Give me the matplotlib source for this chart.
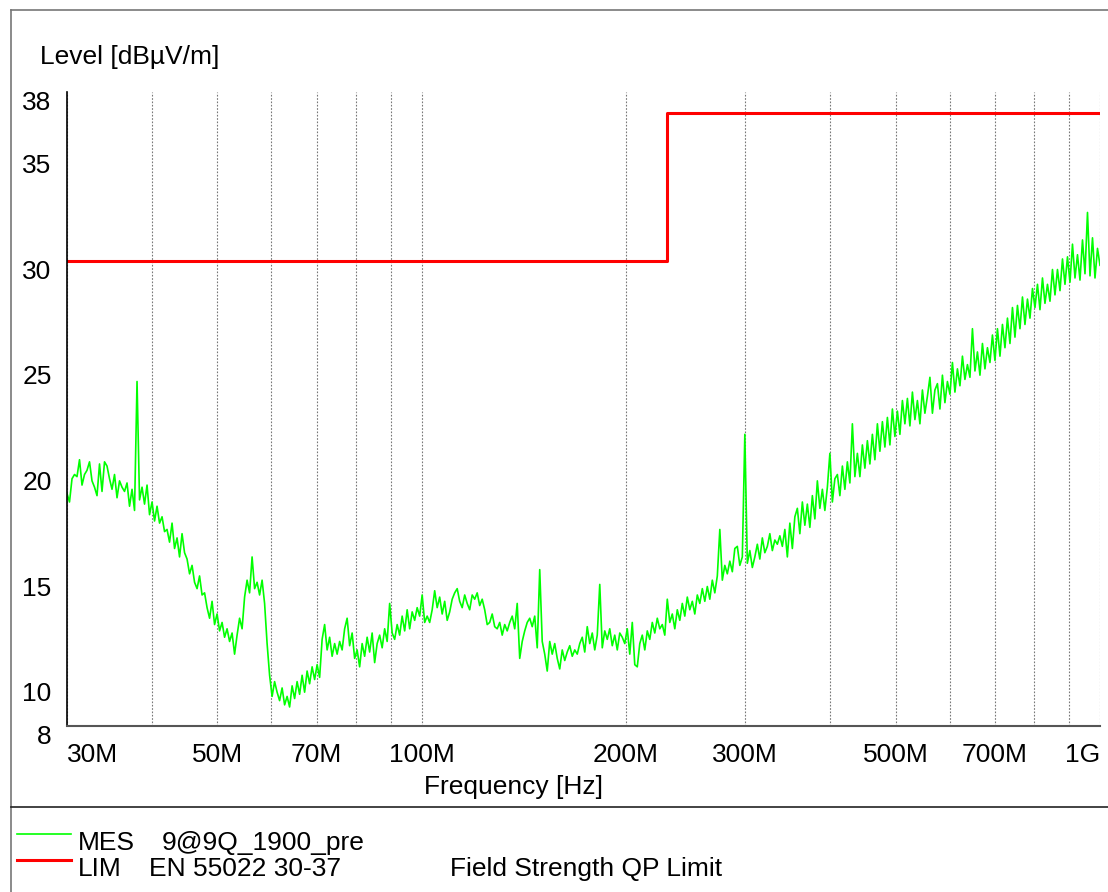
import numpy as np
import matplotlib
matplotlib.use("Agg")
import matplotlib.pyplot as plt
import matplotlib.transforms as mtransforms
from matplotlib.lines import Line2D

plt.rcParams['font.family'] = ['Liberation Sans', 'DejaVu Sans']

level = [
    19.0, 18.6, 19.7, 19.9,  19.8, 20.6, 19.4, 19.9,  20.1, 20.5, 19.6, 19.3,
    18.9, 20.4, 19.1, 20.5,  20.3, 19.7, 19.2, 19.9,  18.8, 19.6, 19.3, 19.1,
    19.5, 18.4, 19.2, 18.2,  24.3, 18.7, 19.3, 18.5,  19.4, 18.0, 18.6, 17.7,
    18.4, 17.6, 17.9, 17.2,  17.3, 16.7, 17.6, 16.4,  16.9, 16.0, 17.1, 16.2,
    15.9, 15.2, 15.6, 14.8,  14.5, 15.1, 14.2, 14.3,  13.6, 13.1, 13.9, 12.8,
    13.3, 12.5, 12.9, 12.2,  12.6, 12.0, 12.4, 11.4,  12.3, 13.1, 12.6, 14.1,
    14.9, 14.3, 16.0, 14.5,  14.8, 14.2, 14.9, 13.8,  11.9, 10.4, 9.4, 10.1,
    9.6, 9.2, 9.8, 9.0,  9.4, 8.9, 9.9, 9.3,  10.1, 9.5, 10.4, 9.6,
    10.6, 10.0, 10.8, 10.2,  10.9, 10.3, 12.1, 12.8,  11.6, 12.2, 11.3, 11.9,
    11.4, 12.0, 11.6, 12.6,  13.1, 11.8, 12.4, 11.2,  11.6, 10.8, 11.9, 11.3,
    12.2, 11.5, 12.4, 11.0,  11.9, 12.3, 11.7, 12.6,  12.0, 13.8, 12.4, 12.1,
    12.8, 12.3, 13.2, 12.5,  13.5, 12.6, 13.4, 13.0,  13.6, 13.2, 14.2, 12.9,
    13.2, 12.9, 13.5, 14.4,  13.6, 14.1, 13.3, 13.9,  13.0, 13.4, 14.0, 14.3,
    14.5, 13.9, 13.6, 14.2,  13.8, 13.5, 14.2, 14.0,  14.3, 13.7, 14.0, 13.5,
    12.8, 12.9, 13.3, 12.7,  12.6, 12.9, 12.3, 12.8,  12.5, 12.9, 13.2, 12.6,
    13.8, 11.2, 12.0, 12.5,  12.9, 13.1, 12.7, 13.2,  11.7, 15.4, 12.0, 11.4,
    10.6, 12.0, 11.4, 11.9,  11.2, 10.7, 11.6, 11.1,  11.5, 11.8, 11.3, 11.6,
    11.4, 11.9, 12.2, 11.5,  12.7, 11.9, 12.4, 11.6,  12.3, 14.7, 11.7, 12.5,
    12.1, 12.6, 11.8, 12.3,  11.6, 12.4, 12.2, 11.9,  12.6, 11.4, 12.9, 10.9,
    10.8, 11.9, 12.3, 11.6,  12.5, 12.1, 12.9, 12.4,  13.1, 12.6, 12.8, 12.3,
    14.0, 12.9, 13.3, 12.6,  13.5, 13.0, 13.8, 13.2,  14.1, 13.5, 13.9, 13.3,
    14.2, 13.8, 14.5, 13.9,  14.6, 14.0, 14.9, 14.3,  15.1, 17.3, 14.9, 15.6,
    15.2, 15.8, 15.3, 16.4,  16.5, 15.6, 16.0, 21.8,  15.7, 16.3, 15.5, 16.0,
    16.6, 15.9, 16.9, 16.2,  16.5, 17.1, 16.3, 16.8,  16.6, 17.0, 16.5, 17.3,
    16.0, 17.6, 16.4, 17.9,  18.3, 17.1, 18.6, 17.5,  18.5, 17.4, 18.9, 17.8,
    19.6, 18.3, 19.2, 18.2,  19.3, 20.9, 18.6, 19.7,  19.9, 18.9, 20.3, 19.2,
    20.5, 19.5, 22.3, 19.8,  20.9, 19.8, 21.3, 20.2,  21.5, 20.4, 21.8, 20.6,
    22.3, 21.0, 22.4, 21.2,  22.6, 21.3, 23.0, 21.7,  22.9, 21.8, 23.4, 22.3,
    23.5, 22.2, 23.8, 22.5,  23.4, 22.3, 23.9, 22.8,  23.6, 24.5, 22.8, 23.9,
    24.2, 23.0, 24.6, 23.3,  24.3, 23.7, 25.2, 23.8,  24.9, 24.1, 25.5, 24.4,
    25.1, 24.5, 26.8, 24.8,  25.7, 24.6, 26.1, 24.9,  25.9, 25.2, 26.5, 25.3,
    26.8, 25.5, 27.0, 25.9,  27.3, 26.1, 27.8, 26.4,  27.9, 26.8, 28.3, 27.0,
    28.2, 27.3, 28.7, 27.8,  28.9, 27.7, 29.2, 28.0,  28.9, 28.1, 29.6, 28.4,
    29.6, 28.6, 30.1, 28.9,  30.2, 29.0, 30.8, 29.2,  30.3, 29.1, 31.0, 29.4,
    32.3, 29.3, 31.1, 29.2,  30.6, 29.8,
]
freq = np.geomspace(30e6, 1e9, len(level))

# EN 55022 limit
lim_freq = [30e6, 230e6, 230e6, 1e9]
lim_level = [30, 30, 37, 37]

major_ticks = [30e6, 50e6, 70e6, 100e6, 200e6, 300e6, 500e6, 700e6, 1e9]
major_labels = ['30M', '50M', '70M', '100M', '200M', '300M', '500M', '700M', '1G']
minor_ticks = [40e6, 60e6, 80e6, 90e6, 400e6, 600e6, 800e6, 900e6]
y_ticks = [8, 10, 15, 20, 25, 30, 35, 38]

FS = 19
W, H = 1108, 892
fig = plt.figure(figsize=(W / 100, H / 100), dpi=100)
ax = fig.add_axes([67 / W, 1 - 726 / H, 1033 / W, 634 / H])

ax.plot(freq, level, color='#00ff00', lw=1.2)
ax.plot(lim_freq, lim_level, color='#ff0000', lw=2.2)

ax.set_xscale('log')
ax.set_xlim(30e6, 1e9)
ax.set_ylim(8, 38)

ax.set_xticks(major_ticks)
ax.set_xticklabels(major_labels)
ax.set_xticks(minor_ticks, minor=True)
ax.xaxis.set_minor_formatter(matplotlib.ticker.NullFormatter())
ax.set_yticks(y_ticks)
ax.tick_params(axis='both', which='both', length=0, labelsize=FS, colors='black')
ax.tick_params(axis='x', pad=12.5)
ax.tick_params(axis='y', pad=11)
ax.grid(True, axis='x', which='both', linestyle=(0, (1.5, 1.5)), color='#777777', lw=0.8)
ax.set_axisbelow(True)

labs = ax.get_xticklabels()
labs[0].set_horizontalalignment('left')
labs[-1].set_horizontalalignment('right')
shift = mtransforms.ScaledTranslation(0, -0.08, fig.dpi_scale_trans)
for t in ax.get_yticklabels():
    t.set_transform(t.get_transform() + shift)

for s in ['top', 'right']:
    ax.spines[s].set_visible(False)
ax.spines['left'].set_color('black')
ax.spines['left'].set_linewidth(1.2)
ax.spines['bottom'].set_color('#555555')
ax.spines['bottom'].set_linewidth(1.5)

# frame and separator
fig.add_artist(Line2D([11 / W, 11 / W], [0, 1 - 10 / H], color='#777777', lw=1.2))
fig.add_artist(Line2D([11 / W, 1], [1 - 10 / H, 1 - 10 / H], color='#777777', lw=1.2))
fig.add_artist(Line2D([11 / W, 1], [1 - 807 / H, 1 - 807 / H], color='#222222', lw=1.2))

fig.text(40 / W, 1 - 57 / H, 'Level [dBµV/m]', fontsize=FS, va='center')
fig.text(513 / W, 1 - 787 / H, 'Frequency [Hz]', fontsize=FS, va='center', ha='center')

# legend block
fig.add_artist(Line2D([17 / W, 71 / W], [1 - 834 / H, 1 - 834 / H], color='#00ff00', lw=1.2))
fig.add_artist(Line2D([17 / W, 71 / W], [1 - 860 / H, 1 - 860 / H], color='#ff0000', lw=2.2))
fig.text(78 / W, 1 - 843 / H, 'MES', fontsize=FS, va='center')
fig.text(162 / W, 1 - 843 / H, '9@9Q_1900_pre', fontsize=FS, va='center')
fig.text(78 / W, 1 - 869 / H, 'LIM', fontsize=FS, va='center')
fig.text(149 / W, 1 - 869 / H, 'EN 55022 30-37', fontsize=FS, va='center')
fig.text(450 / W, 1 - 869 / H, 'Field Strength QP Limit', fontsize=FS, va='center')

fig.savefig('out.png', dpi=100)
